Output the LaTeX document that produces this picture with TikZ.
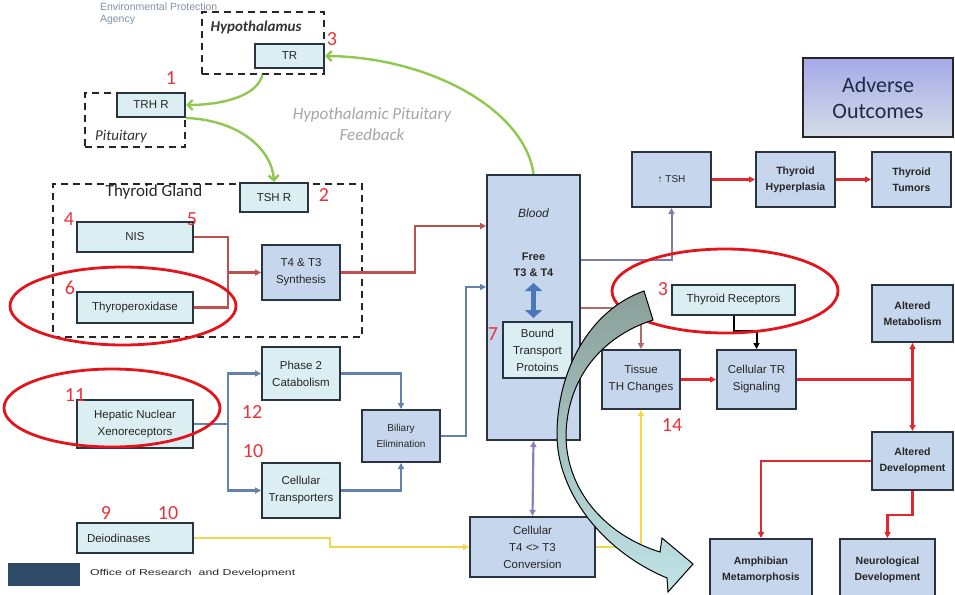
\documentclass[tikz,border=0pt]{standalone}
\usepackage{fontspec}
\setmainfont{Liberation Sans}
\newfontfamily\calfont{Carlito}
\usepackage{graphicx}
\usepackage{tikz}
\usetikzlibrary{arrows.meta}
\definecolor{boxlite}{HTML}{DBEEF1}
\definecolor{boxdark}{HTML}{C6D6EC}
\definecolor{edge}{HTML}{2A3440}
\definecolor{txtgray}{HTML}{262626}
\definecolor{numred}{HTML}{E8323A}
\definecolor{thyred}{HTML}{C0504D}
\definecolor{aored}{HTML}{E0282E}
\definecolor{hepblue}{HTML}{6283AE}
\definecolor{deiyel}{HTML}{F2D64B}
\definecolor{bldpur}{HTML}{8A80BA}
\definecolor{tshgray}{HTML}{7C7FA2}
\definecolor{tisred}{HTML}{B06A6A}
\definecolor{fbgreen}{HTML}{8FC84E}
\definecolor{fbtext}{HTML}{A5A5A5}
\definecolor{ringred}{HTML}{E3141C}
\definecolor{epagray}{HTML}{7F90A8}
\definecolor{ordblue}{HTML}{2D4A66}
\definecolor{dblarrow}{HTML}{4A78B8}
\definecolor{advtop}{HTML}{A6A9E8}
\definecolor{advbot}{HTML}{D4DDE6}
\definecolor{advtext}{HTML}{1F2A44}
\definecolor{arrtop}{HTML}{8A9F99}
\definecolor{arrbot}{HTML}{C0E4E7}

\begin{document}
\begin{tikzpicture}[x=1pt,y=-1pt,line width=2pt,
  >={Triangle[length=6pt,width=6pt]},
  wh/.style 2 args={minimum width=#1,minimum height=#2},
  bx/.style={draw=edge,line width=2pt,fill=boxlite,inner sep=2pt,align=center,text=txtgray,font=\fontsize{11.5}{17}\selectfont},
  bd/.style={bx,fill=boxdark},
  bo/.style={bd,font=\fontsize{10.5}{16}\selectfont\bfseries},
  dashbox/.style={draw=black!85,line width=2pt,dash pattern=on 7pt off 5pt},
  num/.style={text=numred,font=\calfont\fontsize{20}{20}\selectfont,inner sep=0pt},
  fb/.style={draw=fbgreen,line width=2.4pt,-{Straight Barb[length=5pt,width=10pt]}},
  ring/.style={draw=ringred,line width=2.8pt},
  thy/.style={draw=thyred,line width=2.2pt},
  hep/.style={draw=hepblue,line width=2.2pt},
  ao/.style={draw=aored,line width=2.4pt}]
\useasboundingbox (0,0) rectangle (955,594);
\clip (0,0) rectangle (955,594);
\node[font=\fontsize{10.5}{12}\selectfont,text=epagray,align=left,anchor=north west,inner sep=0pt] (epa) at (99,2) {Environmental Protection\\Agency};
\node[dashbox,wh={122pt}{61pt}] (hypo) at (262.5,43) {};
\node[dashbox,wh={100pt}{54pt}] (pit) at (135,120) {};
\node[dashbox,wh={309pt}{153pt}] (thyroid) at (207.5,260.5) {};
\node[font=\calfont\bfseries\itshape\fontsize{15}{15}\selectfont,text=black!80] (hypolbl) at (256,27) {Hypothalamus};
\node[font=\calfont\itshape\fontsize{15}{15}\selectfont,text=black!80] (pitlbl) at (121,137) {Pituitary};
\node[font=\calfont\fontsize{17}{17}\selectfont,text=black!85] (thylbl) at (154,192) {Thyroid Gland};
\node[font=\calfont\itshape\fontsize{17}{21}\selectfont,text=fbtext,align=center] (fblbl) at (372,124.5) {Hypothalamic Pituitary\\Feedback};
\node[bx,wh={69pt}{24pt}] (tr) at (289.5,56) {TR};
\node[bx,wh={68pt}{24pt}] (trhr) at (151,105) {TRH R};
\node[bx,wh={68pt}{29pt}] (tshr) at (274,197.5) {TSH R};
\node[bx,wh={116pt}{30pt}] (nis) at (135,237) {NIS};
\node[bx,wh={116pt}{31pt}] (tpo) at (135,307.5) {Thyroperoxidase};
\node[bd,wh={78pt}{55pt}] (synth) at (301,272.5) {T4 \& T3\\Synthesis};
\node[bd,wh={93pt}{265pt}] (blood) at (533.5,307.5) {};
\node[font=\itshape\fontsize{12}{12}\selectfont,text=txtgray] (bloodlbl) at (533.5,213) {Blood};
\node[font=\bfseries\fontsize{11}{16}\selectfont,text=txtgray,align=center] (freelbl) at (533.5,265) {Free\\T3 \& T4};
\draw[draw=dblarrow,line width=5pt,{Triangle[length=8pt,width=17pt]}-{Triangle[length=8pt,width=17pt]}] (533.5,283) -- (533.5,318);
\node[bx,wh={69pt}{56pt}] (bound) at (537.5,350) {Bound\\Transport\\Protoins};
\node[bx,wh={116pt}{48pt}] (hnx) at (135,424) {Hepatic Nuclear\\Xenoreceptors};
\node[bx,wh={78pt}{53pt}] (phase) at (301,373.5) {Phase 2\\Catabolism};
\node[bx,wh={78pt}{55pt}] (ctrans) at (301,490.5) {Cellular\\Transporters};
\node[bd,wh={78pt}{52pt},font=\fontsize{10}{16}\selectfont] (bil) at (401,436) {Biliary\\Elimination};
\node[bx,wh={116pt}{30pt},text width=96pt,align=left] (deio) at (135,538) {Deiodinases};
\node[bd,wh={125pt}{60pt}] (conv) at (532.5,547) {Cellular\\T4 <> T3\\Conversion};
\node[bd,wh={79pt}{55pt},font=\fontsize{10}{12}\selectfont] (tsh) at (671.5,179.5) {↑ TSH};
\node[bo,wh={79pt}{55pt}] (hyper) at (795.5,179.5) {Thyroid\\Hyperplasia};
\node[bo,wh={79pt}{55pt}] (tumor) at (911.5,179.5) {Thyroid\\Tumors};
\node[bx,wh={123pt}{30pt}] (trec) at (733.5,300) {Thyroid\hspace{3pt}Receptors};
\node[bd,wh={78pt}{59pt}] (tissue) at (641,379.5) {Tissue\\TH Changes};
\node[bd,wh={79pt}{59pt}] (ctr) at (756.5,379.5) {Cellular TR\\Signaling};
\node[bo,wh={81pt}{57pt}] (ameta) at (912.5,313.5) {Altered\\Metabolism};
\node[bo,wh={81pt}{58pt}] (adev) at (912.5,461) {Altered\\Development};
\node[bo,wh={102pt}{62pt}] (amph) at (761,570) {Amphibian\\Metamorphosis};
\node[bo,wh={95pt}{62pt}] (neuro) at (887.5,570) {Neurological\\Development};
\node[draw=black!85,line width=1.8pt,top color=advtop,bottom color=advbot,wh={150pt}{79pt},align=center,text=advtext,font=\calfont\fontsize{22}{26}\selectfont] (adverse) at (878,97.5) {Adverse\\Outcomes};
\node[fill=ordblue,wh={72pt}{23pt},inner sep=0pt] (ordbar) at (44,574.5) {};
\node[anchor=west,inner sep=0pt,text=txtgray] (ord) at (89,573) {\scalebox{1.45}[1]{\fontsize{8.5}{9}\selectfont Office of Research\ \ and Development}};
\draw[fb] (hypo.south) .. controls +(-5,22) and +(35,0) .. (trhr.east);
\draw[fb] (trhr.south east) .. controls (240,120) and (272,150) .. (tshr.north);
\draw[fb] (blood.north) .. controls (525,110) and (430,57) .. (tr.east);
\coordinate (sj) at (228,272.5);
\coordinate (j1) at (415,226);
\draw[thy] (nis.east) -| (sj);
\draw[thy] (tpo.east) -| (sj);
\draw[thy,->] (sj) -- (synth.west);
\draw[thy,->] (synth.east) -| (j1) -- (blood.west |- j1);
\coordinate (hj) at (228,424);
\coordinate (bj) at (466,287);
\draw[hep] (hnx.east) -- (hj);
\draw[hep,->] (hj) |- (phase.west);
\draw[hep,->] (hj) |- (ctrans.west);
\draw[hep,->] (phase.east) -| (bil.north);
\draw[hep,->] (ctrans.east) -| (bil.south);
\draw[hep,->] (bil.east) -| (bj) -- (blood.west |- bj);
\coordinate (yj) at (330,547);
\draw[draw=deiyel,line width=2.6pt,->] (deio.east) -| (yj) -- (conv.west);
\draw[draw=deiyel,line width=2.6pt,->] (conv.east) -| (tissue.south);
\draw[draw=bldpur,line width=2.2pt,<->] (blood.south) -- (conv.north);
\coordinate (tj) at (0,260);
\coordinate (tk) at (0,308);
\draw[draw=tshgray,line width=2pt,->] (blood.east |- tj) -| (tsh.south);
\draw[draw=tisred,line width=2pt,->] (blood.east |- tk) -| (tissue.north);
\draw[draw=black,line width=2pt,->] (trec.south) -- ++(0,15) -| (ctr.north);
\draw[ao,->] (tsh.east) -- (hyper.west);
\draw[ao,->] (hyper.east) -- (tumor.west);
\draw[ao,->] (tissue.east) -- (ctr.west);
\coordinate (aj) at (912.5,379.5);
\draw[ao] (ctr.east) -- (aj);
\draw[ao,->] (aj) -- (ameta.south);
\draw[ao,->] (aj) -- (adev.north);
\draw[ao,->] (adev.west) -| (amph.north);
\draw[ao,->] (adev.south) -- ++(0,24) -| (neuro.north);
\draw[ring] (123,306) ellipse [x radius=113pt,y radius=39pt];
\draw[ring] (112,408) ellipse [x radius=108pt,y radius=39pt];
\draw[ring] (725,291) ellipse [x radius=113pt,y radius=42pt];
\shadedraw[top color=arrtop,bottom color=arrbot,draw=black,line width=1pt]
  (653,320) .. controls (600,337) and (567,380) .. (566,435) .. controls (566,490) and (605,535) .. (660,552)
  -- (662,538) -- (693,564) -- (668,592) -- (667,578)
  .. controls (600,550) and (557,490) .. (557,435) .. controls (557,370) and (590,310) .. (644,291) -- cycle;
\node[num] (n3a) at (332,39) {3};
\node[num] (n1) at (171,78) {1};
\node[num] (n2) at (324,195) {2};
\node[num] (n4) at (69,219) {4};
\node[num] (n5) at (192,219) {5};
\node[num] (n6) at (70,288) {6};
\node[num] (n7) at (493,334) {7};
\node[num] (n11) at (75,395) {11};
\node[num] (n12) at (252,412) {12};
\node[num] (n10a) at (253,451) {10};
\node[num] (n9) at (106,513) {9};
\node[num] (n10b) at (168,513) {10};
\node[num] (n3b) at (663,289) {3};
\node[num] (n14) at (672,425) {14};
\end{tikzpicture}
\end{document}
